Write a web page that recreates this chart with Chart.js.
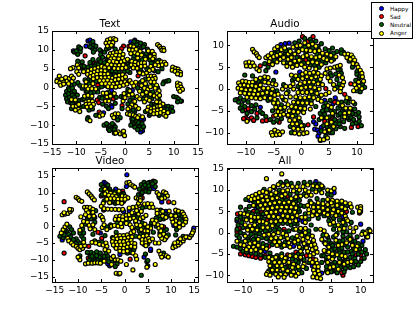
<!DOCTYPE html>
<html>
<head>
<meta charset="utf-8">
<title>t-SNE emotion scatter</title>
<script src="https://cdn.jsdelivr.net/npm/chart.js@4"></script>
<style>
  html, body { margin: 0; padding: 0; background: #fff; }
  #page { position: relative; width: 415px; height: 313px; overflow: hidden; }
  #page canvas { position: absolute; left: 0; top: 0; }
  #legend { position: absolute; left: 371px; top: 2px; width: 40px; height: 35px; border: 1px solid #000; background: #fff;
            font: 5.7px "DejaVu Sans", sans-serif; color: #000; }
  #legend div { position: absolute; left: 18px; line-height: 6px; white-space: nowrap; }
  #legend span { position: absolute; left: -11px; top: 0.5px; width: 3px; height: 3px; border: 1px solid #000; border-radius: 50%; }
</style>
</head>
<body>
<div id="page">
  <canvas id="text" width="415" height="313"></canvas>
  <canvas id="audio" width="415" height="313"></canvas>
  <canvas id="video" width="415" height="313"></canvas>
  <canvas id="all" width="415" height="313"></canvas>
  <div id="legend"></div>
</div>
<script>
const seriesNames = ['Happy', 'Sad', 'Neutral', 'Anger'];
const seriesColors = ['#0000ff', '#ff0000', '#006400', '#ffff00'];

const textTicks = [-15, -10, -5, 0, 5, 10, 15];
const audioXTicks = [-10, -5, 0, 5, 10];
const audioYTicks = [-10, -5, 0, 5, 10];
const videoTicks = [-15, -10, -5, 0, 5, 10, 15];
const allXTicks = [-10, -5, 0, 5, 10];
const allYTicks = [-10, -5, 0, 5, 10, 15];

// Text panel
const textHappy = [[-7.6,12.4],[-7.2,12.6],[-8,11],[-10.6,9.7],[-5,9.7],[2,12.6],[1.2,12.1],[3.6,-11.5],[3.2,-11.8],[3.8,-8.4],[3.3,-8.3],[-2.8,-4.8],[-2.7,-5.2],[-2.8,-0.8],[1.5,-0.7],[11.6,-3.6],[-4.4,-6.7]];
const textSad = [[-0.3,11],[-0.7,10.3],[0.8,10.9],[-8.2,8.4],[-6.3,6.6],[-2.4,3.3],[0.8,1.6],[2.7,3.1],[-7,0],[-5.6,0.6],[-5.7,-3.3],[-5.4,-4],[-10.2,-1.8],[-2.4,-3],[-0.6,-4.8],[3.2,-9.9],[1.4,-8.3],[-2.2,-12.1],[-5.3,-6.5],[-2.1,-8],[3,0.7],[-3.5,5],[5.2,-1.4]];
const textNeutral = [[-10.4,9.4],[-9.8,9],[-9.6,10],[-9.5,10.8],[-9.2,9.5],[-9.7,8.8],[-7,11.8],[-6.5,11.3],[-6.7,10.4],[-6.2,10],[-7.2,10.8],[-6,11],[-5,8.7],[-4.2,9.4],[-3.8,10.2],[-3.3,10.5],[-4.6,8],[-5.4,7.4],[-6.6,7.4],[-6,6.2],[-9.7,7],[-8.8,6.8],[-7.2,6.6],[-2.6,11],[-2,10.2],[1.6,11.6],[2.6,12],[3.2,11.8],[4,11.4],[3.4,10.6],[4.6,10.2],[5,9],[5.6,8.4],[5.4,9.4],[3.6,9],[4,8],[2.8,7.2],[-12,-1],[-11.6,-0.2],[-11,0.6],[-10.4,0.9],[-12.2,-2],[-11.6,-1.6],[-11,-1],[-12,-3],[-11.4,-2.6],[-11.8,-3.8],[-11.2,-4],[-11,-5.6],[-10.4,-4.2],[-9.8,-2],[-9.4,-3.4],[-9.2,-5.2],[-7.6,-8],[-7.7,-8.4],[-4.3,-10],[-3.5,-10.2],[-3.4,-11],[-2.8,-11],[-3,-10],[-2.3,-10],[-2,-10.5],[1.5,-9],[2,-9.5],[2.5,-10],[3,-10.5],[2,-10.5],[1.2,-10],[3.3,-11],[8.2,-5],[8.9,-5],[9.6,-5.2],[8.6,-5.8],[9.4,-6],[9,-6.6],[9.8,-6.3],[10,-2.4],[10.6,-2.6],[11,-3],[11.4,-3.6],[10.8,-3.8],[8,1.5],[8.6,1.7],[9,1.8],[7.8,1],[5,5],[6,4.5],[6.8,4.2],[7.6,5],[3.5,4],[2.8,4.4],[1,4],[-8.2,2],[-8,-1],[-5.6,-1.2],[-5.2,-2.6],[-4.6,-4.4],[-3.8,-5],[-3.4,-5.6],[-2,-4.2],[-6,-7.4],[2,-6.4],[4,-2.4],[5.5,-3],[5,-7.4],[-1,-8],[-1.5,-8.6],[-0.6,-5.6],[-1.2,4.2],[0.5,4.4],[-5,6.8],[-4.2,6.6],
  [-7.2,4],[-6.6,4.5],[-6,3.8],[-5.3,4],[-4.5,4],[-3.8,4.6],[-3,4.2],[-2.6,4.4],[-1.9,4.2],[-0.2,4.1],[-6.2,2.8],[-5.3,3],[-4.5,3.1],[-3.8,3],[-3,3.2],[-2.2,3.4],[-1.5,2.6],[-0.9,2.8],[-5.9,1.7],[-5,2.2],[-4.2,2.2],[-3.4,2.3],[-2.4,2],[-1.6,1.6],[-4.4,1.4],[-3.6,1.4],[-2.8,1.3],[-2,1.5],[-1.2,1.7],[-0.4,2],[-4,0.5],[-3.1,0.6],[-2.3,0.5],[-1.5,0.6],[-0.7,0.9],[-5.5,-0.2],[-4.8,0.2],[-6.4,-1.2],[-7,-1.5],[-7.8,-1],[-8.8,-0.2],[-9.3,0.6],[-9.7,1.3],[-7.4,2.2],[-6.9,1.8],[-7.4,1],[-8.6,4.6],[-9,5.6],[-8.4,5.6],[-7.6,5.4],[-6.9,5.6],[-6.2,5.7],[-5.5,6],[-3.7,7.6],[-3.4,7.2],[-2.6,7.2],[-2,7.2],[-1,7.2],[-0.4,7.3],[-2.5,8.7],[-1.6,8],[-0.9,8],[-2.4,6.4],[-1.2,6.4],[-0.2,6.5],[-3,5.6],[-1.7,5.4],[-0.9,5.5],[0.7,6.2],[0.8,5.6],[1,7],[1.7,7.5],[3,7],[3.5,7.3],[3.2,5],[4.5,5],[1.8,8.4],[2.6,8.4],[3,9],[1.5,10.4],[2.6,10.6],[5.1,7.4],[5.8,7],[5.4,6.4],[6.4,7],[7,7.2],[7.4,6.4],[-11.4,-0.6],[-10.8,-0.2],[-10.4,-1],[-10.8,-2],[-10.4,-2.6],[-11,-3.6],[-10.4,-5],[-10.8,-4.4],[-10,-3.8],[-9.8,-4.6],[-8.8,-3.2],[-8.4,-3],[-7.7,-2.8],[-7,-2.9],[-8.5,-5],[-7.4,-6],[-6.7,-5.7],[-4.2,-2],[-3.4,-1.2],[-4.7,-2.8],[-3.6,-3],[-2.6,-2],[-1.8,-2.6],[-0.8,-2.4],[-0.3,-2.6],[0.4,-1.4],[0.6,-0.5],[1.6,-2.6],[1,-3.4],[0.6,-4.4],[1.7,-6],[0.9,-6.2],[4.2,2.2],[3.2,1.4],[3.6,-0.8],[2.6,-0.1],[4.6,0.2],[3.8,-3.1],[5,-2.5],[5.7,-1.2],[5.7,0.5],[6.7,-0.1],[5.5,-4.5],[6,-4.5],[7,-3.4],[6.2,-4.8],[7.8,-5.2],[8,-5.8],[7,-7.4],[5.2,-7],[4.2,-6.4],[-3.8,-9.6],[-2.6,-9.6],[-3.2,-11.4],[-2.2,-11.2],[2.4,-9],[2.8,-9.3],[1.6,-8.4],[3.5,-9.6],[3.8,-10.4],[2.6,-11.2],[-10,9.7],[-9.1,10.4],[-6.6,12.2],[-6.5,9.4],[-5.2,10],[1.9,12.2],[2.4,11.4],[3.8,10.8],[4.4,9],[4.9,8.2]];
const textAnger = [[-13.5,3],[-13.9,2],[-14,1.6],[-13.4,1.2],[-13.2,0.6],[-13,2.2],[-12.6,1.4],[-12.2,2.6],[-11.9,1.7],[-11.4,2.4],[-11,3],[-10.9,1.6],[-11.6,1],[-10.6,2.5],[-12.6,0.9],[-3.6,12.6],[-3,12.9],[-2.3,13],[-1.9,12.7],[-3.9,11.8],[-3.2,11.9],[-2.5,11.9],[-3.6,11],[-2.8,11.2],[1.2,11],[1.8,10.8],[0.9,10],[1.6,9.9],[2.3,10.1],[3.1,9.6],[2,9.2],[2.6,8.9],[3.4,8.6],[1.2,9],[4.2,7.5],[2.6,7.8],[4.8,9.7],[5.6,9.6],[6,8.8],[5.2,8.2],[6,8],[5.7,7.6],[6.7,11.4],[7.1,10.9],[7.4,10.4],[7.9,10.4],[7.6,9.9],[8,9.8],[-3,9],[-2.4,9.2],[-1.7,9.3],[-1,9.5],[-3.4,8.3],[-2.6,8.3],[-1.9,8.6],[-1.1,8.5],[-0.4,8.8],[-2.9,7.6],[-2.2,7.7],[-1.3,7.6],[-0.5,7.8],[-3.2,6.9],[-2.4,6.9],[-1.7,6.7],[-0.8,6.8],[-0.1,7.1],[0.5,7.5],[-3.6,6.1],[-2.8,6],[-2,5.8],[-1.2,5.9],[-0.4,6],[-3.3,5.2],[-2.2,5.1],[-1.4,5],[-0.6,5.1],[0.2,5.3],[1.4,6.9],[2.1,6.7],[1.3,6],[2,5.9],[2.8,6.3],[3.4,6.5],[1.7,5.2],[2.5,5.1],[3.3,5.6],[4,6.5],[4.1,5.7],[6.7,6.6],[7.5,6.8],[8.1,6.7],[8.4,6.2],[7.6,6],[6.9,5.8],[6.2,6],[5.3,5.6],[5.7,4.8],[5,4.5],[4.4,3.8],[3.7,3.6],[3,3.9],[9.8,5.4],[10.4,5.1],[10.9,4.9],[9.7,4.6],[10.3,4.3],[11,4.3],[11.4,4],[11.4,3.4],[10.8,3.6],[4.8,3],[5.4,3],[6,3],[6.2,2.4],[5.6,2.2],[4.9,2.2],[5.3,1.5],[6,1.4],[10.8,1.2],[11.3,0.9],[10.8,0.4],[11.5,0.1],[11,-0.4],[11.8,-0.5],[11.3,-1],[-8.5,4.2],[-7.6,4.4],[-6.9,4.8],[-6.2,5],[-5.5,5.3],[-4.8,5.6],[-4.2,5.3],[-7.7,3.5],[-7,3.8],[-6.3,4.1],[-5.6,4.4],[-4.9,4.5],[-4.1,4.4],[-7.1,2.9],[-6.5,3.2],[-5.8,3.5],[-5,3.6],[-4.2,3.5],[-3.5,3.6],[-6.5,2.3],[-5.7,2.6],[-4.9,2.6],[-4.1,2.6],[-3.3,2.7],[-2.6,2.5],[-1.9,3],[-1.2,3.2],[-0.5,3.4],[-5.2,1.8],[-4.4,1.8],[-3.6,1.9],[-2.8,1.7],[-2,2],[-1.3,2.2],[-0.5,2.4],[0.1,2.8],[-4.8,1],[-4,1],[-3.2,1],[-2.4,0.9],[-1.6,1.1],[-0.8,1.3],[0,1.5],[-3.5,0.2],[-2.7,0.2],[-1.9,0.1],[-1.1,0.3],[-0.3,0.6],[0.4,0.9],[-9.8,6],[-9.5,5.2],[-10.7,5.3],[-11.2,5],[-9.9,4.2],[-9.5,3.5],[-8.6,0.4],[-8,0.3],[-7.2,0.2],[-7.6,-0.4],[-6.8,-0.3],[-6,-0.4],[-6.6,1],[-8,1.5],[-8,-3.8],[-7.4,-3.6],[-6.7,-3.7],[-8,-4.5],[-7.3,-4.4],[-6.5,-4.5],[-7.8,-5.2],[-7,-5.1],[-8.3,-2.3],[-7.6,-2.1],[-6.8,-2.3],[-11,-3.2],[-10.2,-3.3],[-10.7,-5],[-10,-5],[-9.6,-5.8],[-9.3,-6.4],[-10.2,-6],[-9.5,-4.5],[-7.2,-8.8],[-5,-7],[-5.2,-7.6],[-4.6,-7.3],[-2.6,-7.4],[-2,-7],[-1.4,-7],[-2.3,-8],[-3.7,-2.5],[-3,-2.3],[-4,-3.6],[-3.3,-3.6],[-4.5,-1.5],[-3.8,-1.5],[-2.2,-1.6],[-0.4,-3.6],[0,-2.7],[0.8,-2],[1.5,-1.8],[1,-0.9],[-0.2,-1.6],[2,-3.7],[1.4,-4.6],[1,-5.3],[0.6,-5.7],[0.5,-7],[1,-7.2],[1.7,-7.3],[2.2,-7.6],[2.9,-7.5],[2.6,-8],[3.6,-7.8],[2.2,-5],[2.8,-5.6],[-2,-12],[-1.4,-11.8],[-1,-12.3],[-0.4,-12.3],[-0.1,-12.8],[-0.3,-11.6],[-1.9,-12.1],[3.6,1.8],[4.2,1],[3.4,0.5],[4,-0.2],[4.7,-0.5],[5.2,0.2],[4.4,-1.3],[5.2,-1.8],[3,-1],[3.6,-1.8],[2.5,-2.4],[3,-3],[4.4,-3],[5,-3.4],[4,-3.8],[6.5,0.6],[6.2,-0.2],[7,-0.9],[6.6,-1.6],[6,-2.2],[6.6,-2.6],[7.1,-2.1],[1,1.8],[1.4,1.2],[2.2,1.4],[1.8,0.4],[4.8,-5.2],[5.4,-5.6],[6,-5.4],[6.7,-5],[7.2,-4],[7.8,-4.4],[6.5,-3.8],[7.2,-4.9],[4.6,-6],[5.3,-6.4],[6,-6.2],[6.7,-6],[7.4,-5.8],[5.9,-7],[6.6,-6.9],[7.3,-6.7],[8,-6.3],[8,-7.2],[8.4,-7.6],[8.8,-6.7]];

// Audio panel
const audioHappy = [[-3.7,10.2],[-2.9,10.4],[-2.2,10.5],[-4.4,6.6],[-4.6,3.9],[-0.3,3.9],[2.2,-7.5],[2.6,-8],[2.4,-9.2],[2.9,-9.4],[3.2,-10],[3,-10.8],[3.6,-8.8],[6.1,-2],[6.3,-2.8],[5.7,-3.4],[4.2,-2.6],[-7.4,-4.2]];
const audioSad = [[-10.2,-4.8],[-9.6,-4.5],[-10,-6.6],[-10.4,-6.8],[-9.6,-7],[-9,-6.6],[-8.6,-7.2],[-8,-5.6],[-7,-7.3],[-6.3,-7.2],[-6,-2.3],[-5,-6.2],[-11.6,-2.4],[-7.8,1.2],[-7.4,5.3],[-5.8,5.8],[1.2,10.9],[0.2,12],[2.1,12],[-0.6,7.4],[0.8,6.6],[1.2,-8.2],[2.2,-6.4],[4.2,-7.4],[5.2,-7.2],[5.6,-6.6],[7.8,-1.2],[9,-8.8],[10.2,-8.6],[8.9,1.2],[4.4,0.1],[-4,-7.6],[-2.4,-6.2],[6,-3]];
const audioNeutral = [[-11.9,-2.5],[-11.3,-3],[-11,-2],[-10.7,-3.6],[-10.4,-2.6],[-11,-4.4],[-10.2,-4],[-9.8,-5.6],[-9,-5.2],[-8.4,-4.6],[-8,-6.6],[-7.4,-5.2],[-7,-5.6],[-6.4,-6.3],[-5.6,-7],[-5,-7.6],[-4.4,-7.2],[-3.6,-6.8],[-6.6,5.8],[-6,5],[-6.4,4.2],[-5.2,6.2],[-4.6,8.6],[-3.9,9.5],[-3,8],[-2.2,9],[-1.2,10.6],[-0.4,11],[0.6,11.6],[1.6,11.4],[2.6,11],[3,9.8],[3.6,10.4],[4.3,9.2],[5,8.8],[5.6,9.4],[6.4,8.6],[7.2,9],[7.6,8.4],[8.6,6.4],[9.2,5],[10,4],[10.4,2.6],[11,1],[11.4,0.4],[10.6,-0.6],[-3.2,1],[-2.4,-0.6],[-1.6,2],[-8.8,3],[-10.2,3.2],[2.6,-4],[4,-4],[4.6,-4.8],[5.4,-5],[3.4,-5.6],[4.2,-5.8],[3.2,-7],[4,-8.4],[3.6,-9.6],[4.8,-9.2],[5.4,-8.2],[6.2,-8],[6.2,-9.1],[7,-8.6],[7.8,-9],[6.8,-7.3],[7.6,-7.5],[8.6,-7],[9.2,-8],[9.9,-7.8],[10.4,-7.4],[10.8,-8.4],[10.4,-6.4],[9.8,-5.8],[10.3,-5.4],[9.2,-5.6],[8.4,-3.2],[9.6,-3.4],[7.2,-3],[6.6,-4.4],[7.4,-5],[6.6,-6],[5.2,-10],[4.4,-10.8],[3.4,-11.8],[-1.8,-10],[-2,-8.6],[-1,-6],[-0.2,-7.6],[5.2,3.6],[6.4,2.2],[7,4.4],[-5,2],[-4.4,-0.4],[-3.6,-3.6],[-5.2,-5],
  [-5.4,7.6],[-4.8,8],[-4.2,8.4],[-3.4,7.6],[-2.7,7.6],[-2.8,8.8],[-2.2,7.2],[-1.6,8],[-0.8,8.8],[-0.2,9.4],[0.6,9.6],[1.2,9],[2,9.4],[2.8,8],[3.6,7.8],[4.4,7.4],[5,7.2],[5.8,6.8],[-4.8,6.6],[-4,7],[-2.6,6.2],[-1.6,6.2],[-0.8,7.2],[0,7],[0.8,8.2],[1.4,7],[2.2,6.8],[3,6.6],[3.8,6.4],[4.4,6],[-1.2,5.6],[-0.4,6],[0.4,6],[1.6,5.4],[2.4,5.4],[3.2,5],[-1.2,2.4],[-0.4,3],[0.4,2.8],[1.2,2],[2,3.2],[2.8,2],[3.4,1.2],[-0.6,0.6],[0.4,0.9],[1.2,1],[2,1],[2.6,-0.2],[-0.2,-0.2],[1,-0.2],[2,-1.2],[3.2,-1.8],[-0.6,-2.6],[0.2,-2.4],[1,-2.6],[1.8,-2.6],[-1,-3.6],[-0.2,-3.6],[0.6,-3.8],[-1.4,-4.6],[-0.6,-4.8],[0.2,-5],[-1.8,-5.6],[-1,-7.6],[-0.6,-8.6],[0.4,-8.4],[-10.8,0.4],[-10,0.4],[-9.2,0.4],[-8.4,0],[-7.6,0.4],[-6.6,-0.6],[-5.8,-0.4],[-5,-0.4],[-10.4,-0.4],[-9.6,-0.6],[-8.8,-0.8],[-8,-0.6],[-7.4,-1.6],[-6.4,-1.4],[-5.6,-1.6],[-9.4,-1.6],[-8.6,-1.6],[-7.8,-1.8],[-7,-1.6],[-6,-2.6],[-5.2,-2.6],[-4.4,-2.6],[-10.4,1.2],[-9.6,1.2],[-8.6,1.2],[-7.8,1.8],[-7,1.8],[-6.2,1.6],[-4.6,-3.6],[-4.2,-4.8],[-3.2,-2.4],[-3.2,-4.8],[-10.6,-5],[-9.6,-3],[-9,-3.8],[-8.2,-3.6],[4.4,-3.2],[5.2,-2.6],[5.6,-6],[5,-6.4],[3.8,-6.6],[3.8,-5],[5.2,-4],[6,-5.2],[7,-3.8],[7.6,-4.4],[8.2,-5],[8.6,-6],[8.2,-6.6],[9,-6.6],[9.4,-7],[7,-5.6],[7.4,-6.4],[6,-7],[6.8,-8],[5.4,-9],[4.6,-8.6],[4.4,-9.8],[5.6,-10],[9,-4.6],[9.6,-4.6],[8,-2.8],[8.6,-2.2],[5.4,3],[6.2,3.4],[6.6,4.4],[7.2,3.6],[6.8,1.2],[6.4,0.4],[10,3.4],[10.6,3],[9.8,2],[10,-0.4],[8.8,7.2],[9.6,6],[7.2,8.2],[5.8,8.2],[3,9.2],[1.8,10.8]];
const audioAnger = [[-8.8,9.1],[-8.5,8.5],[-8.1,8.1],[-7.9,7.6],[-7.6,7.2],[-10,6],[-9.4,6.2],[-8.8,6],[-9.9,5.3],[-9.2,5.2],[-8.5,5.3],[-8,4.6],[-7.6,4.2],[-6.4,7.2],[-6,7.6],[-5.4,8.2],[-4.8,9.2],[-4.3,9.7],[-3.6,9],[-5.6,7],[-5,7.4],[-4.4,7.7],[-3.8,8],[-5.8,6.3],[-5.2,5.6],[-4.4,6.2],[-3.8,6.8],[-3.2,7.2],[-3,9.4],[-2.4,8],[-2,8.6],[-1.5,9.6],[-0.8,9.9],[-0.2,10],[0.6,10.6],[1.3,10],[2,10.3],[2.6,9.8],[-3.2,6],[-2.4,6.8],[-1.8,7.2],[-1.2,8],[-0.5,8.6],[0.2,9],[0.9,8.9],[1.6,8.8],[2.4,8.6],[3.2,8.8],[3.8,8.2],[4.6,8],[5.3,7.7],[6.2,7.4],[-2.6,5.2],[-2,5.9],[-1.2,6.4],[-0.4,6.6],[0.3,7.4],[1,7.7],[1.8,7.4],[2.6,7.2],[3.3,7.4],[4,7],[4.6,6.7],[5.4,6.4],[-1.6,5],[-0.8,5.4],[0,5.6],[1.2,6],[2,6.2],[2.8,6],[3.6,5.6],[0.6,5],[1.4,4.8],[2.6,4.6],[7.8,8],[8.4,8],[9,7.8],[9.3,7.2],[8.2,7.2],[8.8,6.8],[9.6,6.6],[9.3,5.8],[10,5.6],[10.2,5],[10.6,4.3],[10.9,3.6],[11,2.8],[11.2,1.8],[10.3,1.6],[9.6,1],[10.4,0.6],[9.9,0.2],[10.9,0.1],[9.4,-0.4],[4.6,4.6],[5.2,4.8],[6,5],[6.5,5.2],[7,5.4],[-1.8,3.2],[-1,3],[-0.6,2.2],[0.2,3.4],[0.8,3.8],[1.5,3.6],[2.2,3.8],[3,3.6],[3.6,3],[4.3,3.6],[0.2,2.4],[1,2.8],[1.8,2.5],[2.6,2.8],[3.4,2.2],[-0.2,1.2],[0.6,1.5],[1.4,1.6],[2.2,1.6],[3,1.2],[3.8,1],[4.8,2.6],[5.2,1.8],[5.8,1],[6,0],[6.8,3.2],[7.4,2.6],[7.6,1.6],[7.4,0.8],[7.1,0.2],[7,-0.6],[0,0.2],[0.8,0.4],[1.6,0.5],[2.4,0.3],[3.2,0],[-0.6,-0.8],[0.2,-0.8],[1,-0.8],[1.8,-0.6],[2.8,-1],[3.6,-1.4],[4.4,-1.2],[5,-0.8],[-1,-1.8],[-0.2,-2],[0.6,-2],[1.4,-1.8],[2.2,-2],[3,-2.4],[3.6,-2.8],[-1.4,-3],[-0.6,-3.1],[0.2,-3.2],[1,-3.2],[1.8,-3.4],[-1.8,-4],[-1,-4.2],[-0.2,-4.4],[0.6,-4.5],[1.6,-4.6],[0.4,-5.4],[-2.2,-5],[-1.4,-5.2],[-0.6,-5.3],[-2.4,-6],[-1.6,-6.2],[-2.1,-7.2],[-1.2,-7.1],[-0.4,-6.6],[-1.6,-8],[-0.8,-8],[0,-8.4],[-1.4,-9],[-0.6,-9.2],[0.2,-9.2],[-1.2,-10.1],[-0.4,-10.3],[0.4,-10.2],[1,-10],[-11.3,1.4],[-10.6,1.8],[-10,1.7],[-9.4,1.5],[-8.8,1.6],[-8.2,2.2],[-7.4,2.5],[-6.6,2.8],[-6,2.6],[-11,0.8],[-10.3,0.9],[-9.6,0.7],[-8.9,0.8],[-8.2,0.6],[-7.4,0.9],[-6.6,1.6],[-5.9,1.4],[-5.2,1.2],[-4.6,1],[-11.4,0.2],[-10.8,0],[-10,-0.2],[-9.2,-0.2],[-8.4,-0.4],[-7.6,-0.1],[-6.8,0.2],[-6,0.2],[-5.2,0],[-11,-0.9],[-10.2,-1],[-9.4,-1.1],[-8.6,-1.2],[-7.8,-1.2],[-7,-1],[-6.2,-0.8],[-5.4,-1],[-4.8,-1.4],[-9.8,-1.9],[-9,-2],[-8.2,-2.1],[-7.4,-2.2],[-6.6,-2],[-5.6,-2.1],[-4.8,-2.4],[-5,-3.2],[-4.2,-3.2],[-4.6,-4.2],[-3.8,-4.4],[-4.2,-5.2],[-3.6,-5.4],[-4.6,-6],[-3.8,-6],[-3.2,-5.8],[-4.2,-1.2],[-3.5,-1.8],[-2.8,-2.6],[-2.4,-3.6],[-3,-4.2],[-2.7,-1],[-2,-1.8],[-3.4,0],[-2.8,0.6],[-2,0.6],[-1.4,0],[-1.5,1.2],[-5.4,-10],[-4.8,-9.4],[-4.2,-9.8],[-5.2,-10.6],[-4.5,-10.5],[-3.9,-10.4],[-3.4,-9.8],[-9.8,-7.4],[3.4,-11.6],[4,-11.6],[4.7,-11.2],[3.6,-6.6],[4.6,-6.6],[5.6,-5.6],[4.8,-3.8],[5.4,-4.2],[6.6,-3.2],[7.4,-3.8],[8,-4.4],[8.8,-4.4],[9.3,-3],[8.2,-2],[7.8,-5.6],[7.8,-6.4],[8.6,-5.4],[5.4,-7.6],[4.6,-8],[5,-9.4],[4.2,-9.8],[5.8,-8.6]];

// Video panel
const videoHappy = [[0.5,15.3],[0.4,11.8],[-4.4,13],[-4,12.6],[-3.8,11.8],[-1.9,11],[4.3,10.8],[6,12],[6.3,11.2],[8,7.2],[8.9,4.4],[10.6,0.2],[14.9,-0.6],[-13.4,-4.1],[-5.2,-2],[-3.2,-11.8],[-3.6,-11.2],[4.2,-9.2],[5.6,-7.2],[5.6,-6.8],[1,4.6],[-0.2,4.4],[1.8,-0.9],[-1,-8.4],[2.4,1.2]];
const videoSad = [[-13,7.3],[-13,-8],[-7.7,-6],[-7.8,-9.5],[-5.7,-1.8],[-4.9,-3.6],[-5,9],[-0.4,10.4],[3.8,8.4],[3.9,10.6],[9.5,7.2],[2.4,3.2],[-4.5,4.8],[8.4,-0.2],[1.2,-9.8],[6.2,13.4],[5.4,13]];
const videoNeutral = [[-5,12.4],[-4.6,11.6],[-5,10.8],[-4.2,10.6],[-3.6,12.2],[-3.2,11],[-2.6,10.2],[-1.4,9.4],[-1,8.6],[-0.6,9.8],[-0.2,7.4],[-4.8,9.4],[-4,8.4],[-2.8,7.2],[-2,6.8],[3.6,12.4],[4.2,13],[5,12.8],[5.8,13],[6.6,13.2],[4,11.6],[4.8,11.6],[5.4,11],[6.6,11.8],[3.2,11],[3,9.4],[3.6,9.6],[7.6,8.4],[8.2,9.4],[-13.9,-3],[-13.2,-3.4],[-11.8,-0.2],[-11.4,-1],[-11,-2],[-10.4,-3.8],[-10,-4.6],[-9.6,-5.2],[-9.2,-3],[-9,-0.8],[-8.8,-2],[-6.8,-2.4],[-7.2,-7.8],[-6.6,-8.2],[-6,-7.6],[-5.2,-8],[-7.4,-9],[-6.4,-9.6],[-5.8,-10],[-7,-10.2],[-4,-8.2],[-3.6,-9],[-3.4,-9.8],[-2.6,-10.6],[-1.6,-11.2],[-2,-12],[3.6,-14.6],[4.8,-10.5],[5,-10.2],[5,-11.8],[4.5,-8.3],[7.2,4.4],[7.8,4.8],[8.8,3.6],[7.4,3],[4.6,5.8],[3.8,5.4],[9,-1],[8.4,-1.6],[9.4,-2.6],[6.2,-1.8],[3.8,-2],[3.2,-1.4],[2.4,-3],[1.6,-7.2],[-0.8,-4.2],[-1.8,-1.8],[-3.2,-0.4],[-6.4,1.2],[-7.4,4.6],[-7.2,3.6],[-9.6,-8.8],[-9.8,-9.4],[11,3.6],[12,2.2],[11,-2.6],[-4.2,-2.8],[-2.6,-3.4],
  [-3.6,10.6],[-3.4,9.8],[-2,9.2],[-3.6,8.8],[-3,8.6],[-1.8,8.2],[-2.4,7.6],[-0.2,8.4],[-1.8,7.4],[-1,7.6],[-0.6,7],[-0.2,9.6],[-2,10.2],[-4.4,7.4],[4.4,12.2],[5.2,12],[6,12.6],[3.8,10],[4.6,10.4],[5.2,10.2],[-1.4,-4.2],[-0.4,-4],[0.2,-4.2],[1,-4],[-2,-5.2],[-1.2,-5],[-0.4,-5.2],[0.4,-5],[1.2,-5.6],[-2,-6],[-1.2,-6],[-0.4,-6.2],[0.2,-7],[1,-6.8],[-1.4,-3.2],[-0.4,-3.2],[0.2,-3],[1,-2.9],[-0.6,-7],[0.6,-8],[1.4,-7.8],[2,-7],[4.2,-3.6],[3.6,-3.6],[4.2,-4.6],[5,-4.4],[4.2,-5.4],[5,-5.2],[3.4,-2.4],[4.4,-2],[5,-2.2],[4,-0.6],[4.8,-0.6],[5.6,0.2],[3.8,1],[2.8,-0.4],[0.8,1.4],[0,1.2],[-1.6,1],[-0.8,2.4],[0,2.6],[2,3],[2.8,2.6],[1,3],[-3.4,-10.6],[-4.6,-9.4],[-5.4,-9.2],[-6.4,-10.4],[-5,-10.4],[-7.6,-10.2],[-4.4,-9],[-8,-7.8],[-6,-8.8],[-7,-9],[-12.4,-1.6],[-12.8,-1.2],[-13,-2.6],[-12,-2.4],[-11.6,-3.2],[-11,-4],[-10.4,-5.2],[-9.8,-6.2],[-8.8,-3.8],[-9.6,-2],[-8.4,0.6],[-7.2,-0.2],[-8,2.2],[-7.2,2.2],[-6.4,2.6],[-8,3],[-6.2,4.6],[-7.8,5],[-5.6,-4.8],[-4.8,-4.8],[-6.4,-4.4],[-3.8,-0.2],[-3,0.4],[9.2,3],[8.4,2.2],[7.6,2],[6.8,2.4],[5.8,1],[6.8,0],[7.6,-2],[8.2,-3],[8.8,-3.6],[11.2,-1],[10.4,2.8],[11.6,3.4],[12.4,3],[12.4,1.4],[12,0.4],[12.6,-3],[11.6,-4.4],[10.6,-5.6],[13.6,-3.2],[8.4,-8],[8.6,9.2],[8,9],[7.4,8.8]];
const videoAnger = [[-13.4,3.4],[-12.8,3.6],[-12.2,3.8],[-11.7,4.4],[-11.4,4.9],[-11.8,5],[-13,4],[-10.4,8.6],[-10,8.2],[-9.7,7.7],[-9.2,7.4],[-8,10.2],[-7.6,9.6],[-7.2,9],[-6.9,8.4],[-6.5,7.8],[-8.6,5.6],[-8,5.6],[-7.4,5.5],[-6.8,5],[-8.2,4.8],[-7.8,4],[-8.4,3.4],[-7.6,2.9],[-9.4,2.8],[-6.8,4.1],[-6.6,3],[-5.2,3.2],[-4.8,2.6],[-4.6,1.8],[-4.6,6.8],[-5,5.9],[-4.4,5.2],[-3.6,5.1],[-2.8,5],[-2,5],[-1.2,4.9],[-0.4,5],[-4.2,11],[-3.8,10.2],[-3,9.8],[-2.2,9.6],[-4.2,9.6],[-3.4,9.2],[-2.6,9],[-1.8,8.8],[-1.2,10.4],[-0.5,9],[0.2,8.8],[0.7,8.4],[-3.8,8],[-3,8.2],[-2.2,8.2],[-1.4,8],[-0.6,8],[0.1,8],[-3.2,7],[-1.4,7],[-0.6,6.8],[0.5,12.9],[1,13],[1.3,12.4],[1.8,12],[2.2,11.6],[2.5,8.4],[3,8.2],[3.4,8.2],[2.6,5.8],[3.2,6.2],[1.8,5.6],[1,5.4],[3,6.8],[4.3,6.6],[5,6.7],[5.8,6.6],[5.4,5.6],[6.1,5.6],[7,10],[7.4,9.4],[8.4,10.2],[8.9,9.8],[9.2,9],[8.6,8.4],[8,8.2],[10.6,7],[7,4.8],[7.8,4],[8.2,4.4],[7,3.8],[8.2,3],[8.9,2.6],[9.6,4.5],[11,4.8],[11.6,4.5],[12.4,4.2],[12.7,3.6],[13,2.8],[13.2,2],[13.1,1.2],[12.6,0.4],[11.8,1],[11,1.6],[10.2,2.2],[10.4,1.2],[11,0.4],[11.8,-0.3],[11,3],[10,3.2],[-1.8,2.8],[-1,3],[-0.4,2.8],[0.4,3.2],[1,3.4],[-2,2],[-1.2,2],[-0.4,1.8],[0.4,2.2],[1.2,2.2],[2,2.4],[2.4,1.6],[3.4,2.2],[4,2.6],[4.6,3.2],[3,3.6],[3.6,4.4],[2.6,4.6],[1.6,4],[-2.8,0],[-2.2,0.2],[-1.4,0],[-0.6,-0.2],[-0.8,0.8],[0.4,0.8],[1.2,0.4],[-1.8,-3],[-1,-2.8],[-0.2,-2.8],[0.6,-2.6],[1.4,-2],[2,-1.6],[1.6,-0.4],[2.6,0.4],[-2.4,-3.8],[-1.6,-3.8],[-0.8,-3.6],[0,-3.6],[0.8,-3.4],[1.6,-3.2],[-2.6,-4.6],[-1.8,-4.8],[-1,-4.6],[-0.2,-4.6],[0.6,-4.4],[1.4,-4.2],[-2.4,-5.6],[-1.6,-5.6],[-0.8,-5.6],[0,-5.6],[0.8,-5.2],[1.6,-5],[2.2,-5.2],[-1.8,-6.6],[-1,-6.6],[-0.2,-6.6],[0.6,-6.2],[1.4,-6],[2.2,-6.2],[-1,-7.4],[-0.2,-7.6],[0.6,-7.4],[1.8,-8],[2.4,-8.8],[2.6,-9.8],[3.2,-3.2],[4,-3],[4.8,-2.8],[3.6,-1],[4.4,-1.4],[5,-1.4],[5.6,-0.6],[3.4,0.2],[4.4,0.6],[5,-0.2],[3.8,-4],[4.6,-4],[5.2,-3.6],[3.8,-5],[4.6,-5],[5.4,-4.4],[6,-3.8],[4.6,-5.8],[6.6,-5],[7.4,-5],[6,1.8],[6.8,1.6],[6.4,0.8],[7.2,0.4],[7.4,-0.6],[8,0],[7.8,-1.4],[8.4,-2.4],[9,-3.2],[8.6,-4],[8,-3.6],[7.6,-2.8],[10.4,-6.4],[11,-6],[11.6,-5.6],[12,-5],[12.6,-4.4],[12.8,-3.6],[13.2,-3.2],[12,-3.8],[11.4,-4.8],[10.8,-5],[14,-3.4],[14.4,-2.6],[14.8,-1.4],[14.6,-2],[7.4,-7.4],[7.8,-8.4],[8.4,-8.8],[9,-8.8],[9.4,-9.2],[8,-9.2],[6.6,-11.4],[4.8,-12.2],[1.8,-13],[-1.8,-14],[-1.2,-14.2],[-1,-14],[-13.6,-2],[-13.2,-1],[-12.8,-0.2],[-12.4,0.6],[-12.2,-3.6],[-12,-4.4],[-11.4,-5],[-11,-5.6],[-10.4,-6],[-10,-6.6],[-9.6,-7],[-9,-6.6],[-8.6,-5.8],[-8.8,-4.8],[-9.4,-6],[-9.6,-1.2],[-9.2,0.2],[-8.8,1.4],[-8,1.2],[-7.6,0.2],[-6.8,0.4],[-7.4,-0.8],[-6.4,-1],[-4.8,-0.4],[-4.4,0.4],[-3.8,-1],[-7,-4.8],[-6.2,-5],[-5.4,-5.4],[-4.6,-5.6],[-4,-5],[-3.8,-6],[-4.2,-7],[-3.4,-7.4],[-8.4,-11.2],[-7.8,-11],[-7,-11],[-6.4,-10.9],[-5.8,-10.9],[-5.2,-11],[-4.4,-10.4],[-2.8,-9.6],[-2,-10],[-1.4,-10],[-0.8,-10.4],[-2.8,-11.4],[-2.4,-9],[-9.6,-10],[-10,-9.2],[0.4,-11.4],[3.4,7.6]];

// All panel
const allHappy = [[-8.9,7.6],[-7.6,6.2],[-7.8,5.4],[-2.8,11.5],[2.4,12],[5.4,10],[5.5,9.4],[-3.6,9],[-2.8,8],[-10.8,1.2],[-11,2.8],[-3.6,4.4],[-0.6,3],[0.2,2.6],[-1.4,-3.2],[-0.2,0.2],[-6.2,-4.4],[3.4,-9.5],[1.8,-7.8],[6.4,5.8],[7,3.8],[10,2],[9.6,-4.2],[10.4,-2]];
const allSad = [[-10.9,4.4],[-10.6,1],[-11,0.2],[-8.2,5],[-7.4,4.8],[-6.8,4.8],[-9.6,-5.2],[-9,-5.4],[-8.4,-5.6],[-7.8,-5.8],[-7,-6],[-6.2,-5.4],[-5.6,-3.2],[-10.4,-5],[-10.2,-2.4],[-2.4,-5.2],[-1,-4.6],[0.8,-5.4],[-3,0.8],[-2.6,-8],[-2.4,8.6],[4.8,6.6],[7.6,5],[8.4,-1.4],[8.6,-2.8],[9.2,-5.2],[10,-5.2],[10.2,-6.2],[5.2,-9],[7,-10],[6.8,-9.4],[2,-6.2],[-6,3],[9.8,4.6]];
const allNeutral = [[-9.5,7.8],[-8.9,6.2],[-10.4,6],[-9.5,5.4],[-11,3.2],[-10.4,3.6],[-9.8,3.2],[-10.8,1.8],[-10.2,2.4],[-11,0.8],[-10.4,0],[-11,-0.6],[-9.8,-0.4],[-10.6,-1.2],[-11.6,-3.2],[-11,-3.4],[-10.4,-3.8],[-10,-4.4],[-9.4,-4.6],[-8.6,-4.8],[-7.8,-5],[-7,-5.2],[-6.2,-5.8],[-5.4,-4.8],[-6.8,3.6],[-8,2.6],[-7.2,1.6],[-6.4,10.2],[-5.4,9.8],[-4.6,10.6],[-3.6,11.8],[-2.6,12],[-1.8,11.6],[-0.6,11.6],[0.4,11.8],[1.4,11.8],[2.2,11.4],[3,11.4],[3.6,10.6],[3,10],[1.8,10.2],[4.4,9],[5,8.8],[-0.8,9.4],[0.4,9],[-2,9],[-3.8,10],[1.4,7.4],[2.6,8],[3.6,7.6],[-1,7.4],[0.4,6.2],[-0.4,5],[0.6,4.4],[1.2,3.2],[1.6,1.8],[-0.8,2],[-1.8,1.8],[-1.6,-1.2],[-2.8,-2.2],[-3.4,-3.4],[-1.6,-6.2],[-0.6,-7],[0.4,-6.4],[1.2,-7],[0.8,-8.4],[-0.4,-8.8],[-2,-9.4],[-4,-6.2],[-5,-7.6],[3.4,-5.4],[4.2,-6.6],[3.4,-7],[5,-2.6],[4.6,-1.8],[5.4,-1],[6,-0.2],[7,-0.8],[7.6,0.2],[8.2,-0.6],[9.4,-1],[9,-2],[10.2,-3],[10.8,-4],[11,-5],[10.6,-6],[10,-6.8],[9.6,-7.6],[8.8,-7],[8.2,-8.2],[7.4,-8.4],[6.6,-8.2],[5.8,-9],[5,-8.4],[4.8,-7.4],[5.6,-7],[6.6,-6.6],[7.4,-6.8],[8.2,-5.8],[9,-6],[7.2,-4.6],[6.4,-4],[5.6,-3.8],[7.8,-3.4],[8.4,-4.4],[6.4,-2],[7.4,1.8],[8.4,2.4],[6.4,3],[5.6,1.6],[4.6,2.8],[8.6,4.8],[8,6.4],[10,5],[11.2,-0.4],[11.4,0.8],[-9,-1],[-8.2,-1.6],[-7.2,-0.2],[-6.6,-2.6],[-4.2,1.4],[2.8,3.4],[2.4,0.8],
  [-8.2,7.4],[-7.6,7.6],[-7,7.8],[-6.2,8],[-5.4,8.4],[-4.6,8.8],[-3.8,8.8],[-3,8.4],[-8,7],[-6.6,7],[-5.8,7],[-5,7.2],[-4.2,7.6],[-3.4,7.6],[-2.6,7.6],[-1.8,7.4],[-1.2,8],[-0.4,7.6],[-7.4,6],[-6.6,6],[-5.8,6.2],[-5,6.4],[-4.2,6.6],[-3.4,6.6],[-2.6,6.6],[-1.8,6.6],[-1,6.4],[-0.2,6.4],[-7.6,5],[-5.6,5.2],[-4.8,5.4],[-4,5.6],[-3.2,5.6],[-2.4,5.4],[-1.6,5.4],[-0.6,5.6],[-9,4.8],[-8.4,4.4],[-7.4,4.2],[-6.6,4.4],[-5.8,4.2],[-5.2,4.2],[-4.4,4.4],[-3.2,4.6],[-2.4,4.6],[-1.6,4.4],[-9,3.6],[-8.2,3.2],[-7.4,3],[-6.4,3.2],[-5.2,3.2],[-4.4,3.2],[-3.6,3.4],[-2.8,3.4],[-2,3.2],[-1.2,3.4],[-10,1.2],[-9.2,1.2],[-8.4,1.2],[-7.6,1.2],[-6.6,1.8],[-5.6,1.8],[-4.8,2],[-4,2],[-3.2,2.2],[-2.4,2.2],[-1.2,2.2],[-8.6,0.2],[-7.8,0],[-7,0.6],[-6.2,0.4],[-5.4,0.6],[-4.6,0.6],[-3.8,0.8],[-3,0.2],[-2.2,0.4],[-1.4,0.8],[-0.4,0.4],[-9.2,-1.6],[-8.6,-0.4],[-7.8,-0.8],[-6.8,-1.2],[-6,-1.4],[-5.4,-2],[-4.8,-1.6],[-4,-1.8],[-3.2,-1],[-2.4,-1.8],[-1,-1.4],[-10.2,-2.2],[-9,-2],[-8.2,-2.8],[-7.4,-2.2],[-9.4,-3.4],[-8.6,-3.6],[-7.8,-3.6],[-7,-3.6],[-6,-3],[-5,-2.8],[-3.6,-2.6],[-2.4,-3],[-1.4,-2.2],[-0.6,-2.6],[0.2,-2],[0.6,-3],[1.4,-2.6],[0,-3.8],[0.4,-0.6],[1.2,-0.4],[1.2,0.4],[-5,-5.8],[-4.2,-5.4],[-3.4,-5],[-2.6,-5.8],[-1.6,-5.2],[-0.6,-5],[0,-5],[-5.2,-7],[-4.2,-6.6],[-3.4,-6.4],[-2.6,-6.6],[-1.8,-7.4],[-1,-6.6],[-0.2,-6.2],[-5.2,-8.4],[-4.6,-8.2],[-3.8,-8.2],[-2.8,-8.2],[-2,-8],[-1.2,-8.4],[-5.6,-9],[-4.8,-9.4],[-4,-9.4],[-3.2,-9.4],[-2.6,-9.6],[-1.4,-9.8],[0,-9.4],[4.8,7.4],[5.6,7.2],[6.4,7],[7,6.8],[7.6,6.4],[4.8,6],[5.6,6],[6.2,5.6],[7,5.2],[3.2,6.4],[4,6.2],[2,6.6],[2.6,5.4],[3.4,5.4],[4.2,5],[5,5],[5.6,4.6],[6.4,4.2],[2.2,4.6],[3,4.4],[3.8,4],[4.6,3.8],[5.4,3.4],[7.2,2.8],[5.4,0.8],[6.6,1.4],[7,0.2],[3.6,-0.6],[4.4,-1],[3.8,-2.2],[4.4,-3],[5.2,-3],[5.8,-2.4],[7,-1.8],[7.8,-1.2],[8.4,-2],[9.6,-2.6],[9.8,-3.8],[8.8,-3.6],[7.2,-2.8],[6.8,-3.6],[4.2,-4.4],[5,-4.2],[3.8,-5.4],[5.6,-4.8],[6.4,-4.8],[7.8,-4.6],[8.6,-5],[9.6,-5],[10.2,-4.6],[4.2,-5.8],[5.4,-5.6],[6.4,-6],[7.4,-6],[8.2,-6.8],[9.2,-6.8],[4.2,-8],[5.2,-7.6],[6,-7.8],[7,-7.6],[7.8,-7.6],[8.8,-8],[5,-9.2],[6,-9.4],[7.2,-9.2],[2.4,-7.4],[2.4,-8.6],[2.6,-9.8],[11,-1],[10.4,0.2],[4.2,-9]];
const allAnger = [[-6,12.7],[-3.4,13.8],[-9,8.3],[-8.4,8.6],[-7.8,9],[-7.2,9.4],[-6.6,9.7],[-6,9.4],[-5.4,10.2],[-4.8,10.8],[-4,11.3],[-3.2,11],[-2.4,11.2],[-1.6,10.8],[-0.8,10.8],[0.2,10.8],[1,11.2],[1.9,11],[2.6,10.8],[3.4,11],[-8.6,7.8],[-8,8],[-7.4,8.2],[-6.8,8.6],[-6,8.4],[-5.2,9],[-4.4,9.4],[-3.2,9.8],[-2.4,10],[-1.4,9.8],[-0.4,10],[0.6,10],[1.2,9.6],[2.4,9.6],[3.4,9.4],[-7.4,7.2],[-6.6,7.6],[-5.8,7.6],[-5,8],[-4.2,8.2],[-3.4,8.6],[-2.8,9],[-1.8,8],[-1,8.4],[-0.2,8.6],[0.8,8.6],[1.6,8.8],[-8.2,6.4],[-7,6.4],[-6.2,6.6],[-5.4,6.8],[-4.6,7],[-3.8,7.2],[-3,7],[-2.2,7.2],[-1.4,6.8],[-6.6,5.6],[-5.8,5.6],[-5,5.8],[-4.2,6],[-3.4,6],[-2.6,6],[-1.8,6],[-1,5.8],[-6,4.6],[-5.2,4.8],[-4.4,4.9],[-3.6,5.2],[-2.8,5],[-2,5],[-1.2,4.8],[-5.6,3.8],[-4.8,3.8],[-4,3.6],[-3.2,4],[-2.4,3.8],[-1.6,3.6],[-0.8,4],[-10.4,4.6],[-9.8,4.4],[-9.2,4.2],[-8.6,3.8],[-8,3.6],[-7.4,3.6],[-6.6,2.6],[-9.4,3],[-8.6,2.8],[-8,1.8],[-7.2,2.6],[-6,2.2],[-5.2,2.6],[-4.4,2.6],[-3.6,2.8],[-2.8,2.8],[-2,2.6],[-1,2.8],[-9.6,1.8],[-8.8,1.6],[-6.6,1.2],[-5.8,1.2],[-5,1.6],[-9.2,0.6],[-8.4,0.8],[-7.6,0.6],[-9.6,-0.8],[-11,-2],[-10.4,-2.8],[-9.6,-2],[-8.8,-2.6],[-8,-2.4],[-7.4,-1.6],[-9.8,-3],[-9,-3.4],[-8.2,-3.4],[-7.4,-3],[-9.4,-4],[-8.6,-4.2],[-7.8,-4],[-7,-4.4],[-6.6,-3.4],[-6,-3.8],[-6.4,-0.6],[-5.6,-0.4],[-4.8,-0.4],[-4,0],[-3.2,-0.2],[-2.6,-0.6],[-5.2,-1.4],[-4.4,-1.2],[-3.6,-1.2],[-4.6,-2.2],[-3.8,-2.2],[-2.4,-1.4],[-4.2,-3],[-2.2,-2.4],[-3,-3],[-2,-3.4],[-1.2,-2.2],[-0.6,-1.8],[-0.8,-0.8],[0,-0.6],[0.6,0],[-1,0.8],[-0.2,1],[0.6,1],[0.6,2.4],[0,3.6],[0.6,3.6],[0.2,-1.6],[1,-1.2],[1.8,-0.8],[0.4,-2.6],[1.2,-2.2],[2,-1.8],[0.8,-3.6],[1.6,-3],[2.2,-2.8],[1,-4.4],[1.8,-4],[2.4,-3.6],[2,-5],[1.4,-5.4],[2.6,-4.6],[-0.4,-3.4],[-0.2,-4.4],[-5.6,-5.8],[-5,-6.2],[-4.4,-5.8],[-3.4,-5.6],[-2.8,-6],[-2,-5.4],[-1,-5.6],[-0.2,-5.8],[-5.6,-6.8],[-4.6,-7],[-3.8,-7],[-3,-6.8],[-2.2,-7],[-1.4,-7.4],[0.4,-7.4],[-5.4,-7.8],[-4.2,-7.8],[-3.4,-7.8],[-1.6,-8.2],[-0.6,-8],[0.2,-8],[-5.8,-9.4],[-5,-8.8],[-4.2,-8.8],[-3.2,-8.6],[-2.4,-9],[-1.4,-9.2],[-0.6,-9.6],[-6,-9.8],[-5.4,-10],[-4.4,-9.8],[-3.6,-9.8],[-2.8,-9.9],[-1.8,-10],[-1,-10.2],[-4,-10.4],[-3,-10.5],[2.4,-6.4],[2.6,-7.2],[2.2,-8],[2.8,-8],[2,-8.8],[2.8,-9],[2.2,-9.6],[3,-9.8],[1.9,-10.4],[2.6,-10.6],[3.2,-10.8],[1.4,-6.4],[1.8,-7],[1.2,4.6],[1.8,4],[2.6,4.2],[1.2,5.4],[2,5],[3,5],[3.8,4.6],[4.4,4.2],[5.2,4.6],[5.8,4],[1,6.4],[2,6],[2.8,6],[3.6,5.8],[4.4,5.4],[5.4,5.4],[6.2,5],[6.8,4.6],[7.4,3.9],[7.6,3.2],[1.6,7],[2.8,7],[3.6,6.8],[4.4,6.6],[5.2,6.4],[6,6.4],[6.8,6],[7.4,5.6],[4.4,7.8],[5.2,7.6],[6,7.4],[6.8,7.4],[7.4,7],[8.2,6.8],[8.4,6],[5,7],[9.5,6],[10,6.1],[10,5.6],[9.8,5],[4.8,2],[5.4,2.4],[6.2,1.8],[7,2.4],[7.8,2.8],[8.2,1.2],[7.2,1],[6.4,0.8],[5.8,-0.6],[3.2,0.8],[3.8,0.4],[4.2,-0.6],[3.4,-1.6],[4,-2.6],[4.6,-3.4],[3.8,-4.2],[4.6,-4.6],[5.2,-5],[6,-5.2],[6.8,-5.4],[7.4,-5.6],[7.6,-2.4],[8.6,-3],[9.4,-3.2],[8.2,-1.6],[9.2,-4],[6.8,-2.8],[6.2,-3],[5.8,-1.8],[4.4,-7],[4.6,-5.8],[5.2,-6.2],[6.4,-7],[7.2,-7.4],[7.8,-7],[8.4,-6.8],[4.8,-8.2],[5.4,-8],[6.2,-8.6],[10.2,-0.4],[11,0.2],[11.6,0.4],[11.2,-1],[10.8,-0.2],[8.8,0.2],[9.2,1.2],[4.4,10],[5,9.8],[5.5,10.4],[4.4,-9.4]];

const panels = [
  { id: 'text', title: 'Text', box: [52, 31, 198, 144], x: [-15, 15], y: [-15, 15], xTicks: textTicks, yTicks: textTicks, series: [textHappy, textSad, textNeutral, textAnger] },
  { id: 'audio', title: 'Audio', box: [227, 31, 373, 144], x: [-13.4, 12.9], y: [-12.6, 13.3], xTicks: audioXTicks, yTicks: audioYTicks, series: [audioHappy, audioSad, audioNeutral, audioAnger] },
  { id: 'video', title: 'Video', box: [52, 168, 198, 282], x: [-15.6, 15.8], y: [-16.6, 17.3], xTicks: videoTicks, yTicks: videoTicks, series: [videoHappy, videoSad, videoNeutral, videoAnger] },
  { id: 'all', title: 'All', box: [227, 168, 373, 282], x: [-12.7, 12.1], y: [-11.6, 15.2], xTicks: allXTicks, yTicks: allYTicks, series: [allHappy, allSad, allNeutral, allAnger] }
];

// mpl style frame: black box with short inward ticks on all four sides
const framePlugin = {
  id: 'frame',
  afterDatasetsDraw(chart) {
    const { ctx, chartArea: a, scales } = chart;
    ctx.save();
    ctx.strokeStyle = '#000';
    ctx.lineWidth = 1;
    ctx.strokeRect(a.left + 0.5, a.top + 0.5, a.width, a.height);
    ctx.beginPath();
    scales.x.ticks.forEach(t => {
      const p = Math.round(scales.x.getPixelForValue(t.value)) + 0.5;
      ctx.moveTo(p, a.top); ctx.lineTo(p, a.top + 3);
      ctx.moveTo(p, a.bottom); ctx.lineTo(p, a.bottom - 3);
    });
    scales.y.ticks.forEach(t => {
      const p = Math.round(scales.y.getPixelForValue(t.value)) + 0.5;
      ctx.moveTo(a.left, p); ctx.lineTo(a.left + 3, p);
      ctx.moveTo(a.right, p); ctx.lineTo(a.right - 3, p);
    });
    ctx.stroke();
    ctx.restore();
  }
};

const tickLabel = v => (v < 0 ? '\u2212' + Math.abs(v) : String(v));
const tickFont = { family: '"DejaVu Sans"', size: 9 };
const yWidth = 30, xHeight = 14, titleHeight = 16;

panels.forEach(p => {
  const [left, top, right, bottom] = p.box;
  new Chart(document.getElementById(p.id), {
    type: 'scatter',
    plugins: [framePlugin],
    data: {
      datasets: p.series.map((points, i) => ({
        label: seriesNames[i],
        data: points.map(([x, y]) => ({ x, y })),
        backgroundColor: seriesColors[i],
        borderColor: '#000',
        borderWidth: 1.2,
        pointRadius: 2,
        order: seriesNames.length - i
      }))
    },
    options: {
      responsive: false,
      animation: false,
      layout: { padding: { left: left - yWidth, top: top - titleHeight, right: 415 - right, bottom: 313 - bottom - xHeight } },
      plugins: {
        legend: { display: false },
        tooltip: { enabled: false },
        title: { display: true, text: p.title, color: '#000', padding: { top: 2, bottom: 0 }, font: { family: '"DejaVu Sans"', size: 10.3, weight: 'normal', lineHeight: '14px' } }
      },
      scales: {
        x: {
          type: 'linear', min: p.x[0], max: p.x[1],
          grid: { display: false, drawTicks: false }, border: { display: false },
          afterBuildTicks: s => { s.ticks = p.xTicks.map(value => ({ value })); },
          afterFit: s => { s.height = xHeight; },
          ticks: { color: '#000', font: tickFont, padding: 3, maxRotation: 0, autoSkip: false, callback: tickLabel }
        },
        y: {
          type: 'linear', min: p.y[0], max: p.y[1],
          grid: { display: false, drawTicks: false }, border: { display: false },
          afterBuildTicks: s => { s.ticks = p.yTicks.map(value => ({ value })); },
          afterFit: s => { s.width = yWidth; },
          ticks: { color: '#000', font: tickFont, padding: 3, autoSkip: false, callback: tickLabel }
        }
      }
    }
  });
});

const legend = document.getElementById('legend');
seriesNames.forEach((name, i) => {
  const row = document.createElement('div');
  row.style.top = (2.5 + i * 8.2) + 'px';
  row.textContent = name;
  const dot = document.createElement('span');
  dot.style.background = seriesColors[i];
  row.appendChild(dot);
  legend.appendChild(row);
});
</script>
</body>
</html>
